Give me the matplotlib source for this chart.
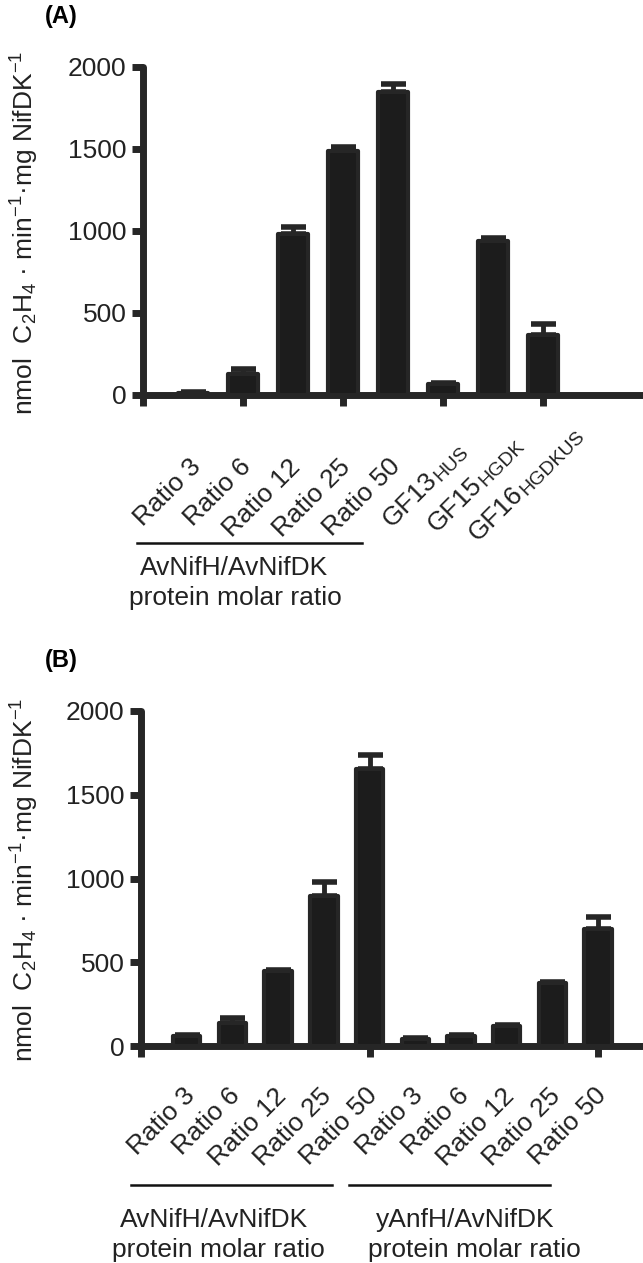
import numpy as np
import matplotlib
matplotlib.use("Agg")
import matplotlib.pyplot as plt
from matplotlib.lines import Line2D

plt.rcParams['font.family'] = ['Liberation Sans', 'DejaVu Sans']
plt.rcParams['mathtext.fontset'] = 'custom'
plt.rcParams['mathtext.rm'] = 'Liberation Sans'
plt.rcParams['mathtext.it'] = 'Liberation Sans'

# -------------------------------------------------
# Data
# -------------------------------------------------
# panel A
names_A = ["Ratio 3", "Ratio 6", "Ratio 12", "Ratio 25", "Ratio 50", "GF13", "GF15", "GF16"]
subs_A = ["", "", "", "", "", "HUS", "HGDK", "HGDKUS"]
values_A = [15, 130, 980, 1490, 1850, 65, 940, 365]
errors_A = [5, 28, 45, 22, 45, 8, 20, 65]

# panel B
names_B = ["Ratio 3", "Ratio 6", "Ratio 12", "Ratio 25", "Ratio 50",
           "Ratio 3", "Ratio 6", "Ratio 12", "Ratio 25", "Ratio 50"]
values_B = [60, 140, 450, 895, 1655, 40, 60, 120, 375, 700]
errors_B = [5, 25, 5, 85, 80, 5, 5, 5, 5, 70]

y_ticks = [0, 500, 1000, 1500, 2000]
ylabel = ("nmol  C$_{\\mathregular{2}}$H$_{\\mathregular{4}}$ · min$^{\\mathregular{-1}}$"
          "·mg NifDK$^{\\mathregular{-1}}$")

W, H = 643, 1263
fig = plt.figure(figsize=(W / 100, H / 100), dpi=100)
renderer = fig.canvas.get_renderer()

dark = "#1c1c1c"
edge = "#262626"
txt = "#222222"
LABEL_SIZE = 19
SUB_SIZE = 14


def fx(px):
    return px / W


def fy(py):
    # py counted from the top of the image
    return 1 - py / H


def style_axes(ax, xmax, xticks):
    ax.set_xlim(0, xmax)
    ax.set_ylim(0, 2000)
    for s in ["top", "right"]:
        ax.spines[s].set_visible(False)
    for s in ["left", "bottom"]:
        ax.spines[s].set_linewidth(5)
        ax.spines[s].set_color(edge)
        ax.spines[s].set_capstyle("round")
    ax.set_yticks(y_ticks)
    ax.set_xticks(xticks)
    ax.set_xticklabels([])
    ax.tick_params(axis="both", length=8, width=5, color=edge, direction="out")
    ax.tick_params(axis="y", labelsize=19, pad=4, labelcolor=txt)
    ax.patch.set_visible(False)


def draw_bars(ax, values, errors):
    x = np.arange(1, len(values) + 1)
    ax.bar(x, values, width=0.6, color=dark, edgecolor=edge, linewidth=3,
           joinstyle="round", zorder=3, clip_on=False)
    ax.errorbar(x, values, yerr=[np.zeros(len(errors)), errors], fmt="none",
                ecolor=edge, elinewidth=3.5, capsize=9, capthick=4, zorder=2,
                clip_on=False)
    return x


def text_width(s, size):
    t = fig.text(0, 0, s, fontsize=size)
    w = t.get_window_extent(renderer).width
    t.remove()
    return w


def slanted_label(ax, xi, dy, name, sub=""):
    # text end sits under the bar, rotated 45 degrees
    c = np.cos(np.radians(45))
    shift = 0
    end = 4
    if sub:
        sw = text_width(sub, SUB_SIZE)
        over = 0.55 * sw  # subscript runs on past the bar
        drop = 9  # from text centre down to a slightly lowered baseline
        ax.annotate(sub, xy=(xi, 0), xycoords=("data", "axes fraction"),
                    xytext=(end + (over + drop) * c, dy + (over - drop) * c),
                    textcoords="offset pixels",
                    rotation=45, rotation_mode="anchor", ha="right", va="baseline",
                    fontsize=SUB_SIZE, color=txt)
        shift = sw + 1 - over
    ax.annotate(name, xy=(xi, 0), xycoords=("data", "axes fraction"),
                xytext=(end - shift * c, dy - shift * c), textcoords="offset pixels",
                rotation=45, rotation_mode="anchor", ha="right", va="center",
                fontsize=LABEL_SIZE, color=txt)


# -------------------------------------------------
# Panel A
# -------------------------------------------------
axA = fig.add_axes([fx(143), fy(395), fx(500), 328 / H])
style_axes(axA, 10, [0, 2, 4, 6, 8])
xA = draw_bars(axA, values_A, errors_A)
for xi, name, sub in zip(xA, names_A, subs_A):
    slanted_label(axA, xi, -68, name, sub)

fig.text(fx(45), fy(16), "(A)", fontsize=17, fontweight="bold", va="center", ha="left")
fig.text(fx(25), fy(233), ylabel, rotation=90, fontsize=19, ha="center", va="center",
         color=txt)
fig.add_artist(Line2D([fx(137), fx(362)], [fy(543), fy(543)], color="#111111", lw=1.8))
fig.text(fx(234), fy(568), "AvNifH/AvNifDK", fontsize=19, ha="center", va="center",
         color=txt)
fig.text(fx(235), fy(598), "protein molar ratio", fontsize=19, ha="center", va="center",
         color=txt)

# -------------------------------------------------
# Panel B
# -------------------------------------------------
axB = fig.add_axes([fx(141), fy(1046), fx(502), 335 / H])
style_axes(axB, 10.98, [0, 5, 10])
xB = draw_bars(axB, values_B, errors_B)
for xi, name in zip(xB, names_B):
    slanted_label(axB, xi, -46, name)

fig.text(fx(45), fy(661), "(B)", fontsize=17, fontweight="bold", va="center", ha="left")
fig.text(fx(25), fy(880), ylabel, rotation=90, fontsize=19, ha="center", va="center",
         color=txt)
fig.add_artist(Line2D([fx(131), fx(332)], [fy(1185), fy(1185)], color="#111111", lw=1.8))
fig.add_artist(Line2D([fx(349), fx(550)], [fy(1185), fy(1185)], color="#111111", lw=1.8))
fig.text(fx(214), fy(1220), "AvNifH/AvNifDK", fontsize=19, ha="center", va="center",
         color=txt)
fig.text(fx(218), fy(1250), "protein molar ratio", fontsize=19, ha="center", va="center",
         color=txt)
fig.text(fx(465), fy(1220), "yAnfH/AvNifDK", fontsize=19, ha="center", va="center",
         color=txt)
fig.text(fx(474), fy(1250), "protein molar ratio", fontsize=19, ha="center", va="center",
         color=txt)

fig.savefig("out.png", dpi=100)
